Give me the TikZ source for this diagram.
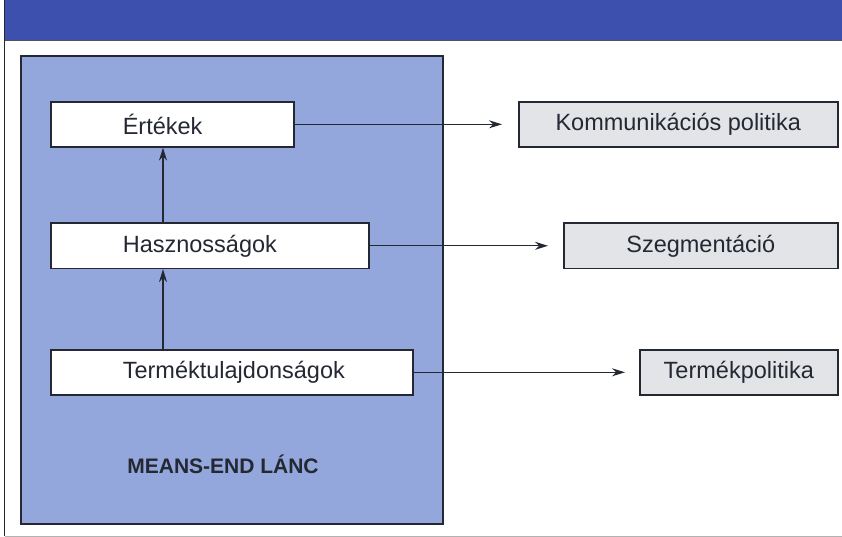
\documentclass[tikz,border=0pt]{standalone}
\usepackage{fontspec}
\setmainfont{Liberation Sans}
\usetikzlibrary{arrows.meta}
\definecolor{bannerblue}{RGB}{62,80,174}
\definecolor{panelblue}{RGB}{148,167,221}
\definecolor{edge}{RGB}{36,40,50}
\definecolor{policygray}{RGB}{226,228,231}
\begin{document}
\begin{tikzpicture}[x=1pt,y=-1pt,
  every node/.style={font=\fontsize{23.5}{27}\selectfont, text=edge},
  chainbox/.style={draw=edge, line width=1.6pt, fill=white, anchor=north west,
    inner xsep=72pt, inner ysep=0pt, align=left, minimum height=45pt},
  policybox/.style={draw=edge, line width=1.6pt, fill=policygray, anchor=north west,
    inner sep=0pt, minimum height=45pt},
  flow/.style={draw=edge, line width=1.3pt, -{Stealth[length=13pt,width=8pt]}}]
  \useasboundingbox (0,0) rectangle (842,537);
  % outer frame and title band
  \fill[white] (0,0) rectangle (842,537);
  \draw[edge, line width=1.2pt] (4.5,0) -- (4.5,536);
  \draw[gray!60, line width=0.8pt] (4.5,536) -- (842,536);
  \fill[bannerblue] (5,0) rectangle (842,40.5);
  \draw[edge!80, line width=1pt] (5,40.5) -- (842,40.5);
  % means-end panel
  \node[draw=edge, line width=1.6pt, fill=panelblue, anchor=north west, inner sep=0pt,
        minimum width=422pt, minimum height=468pt] (panel) at (20,55) {};
  \node[font=\fontsize{21}{25}\selectfont\bfseries] (chainlabel) at (223,464) {MEANS-END LÁNC};
  % chain boxes
  \node[chainbox, text width=99pt] (ertekek) at (50,101) {Értékek};
  \node[chainbox, text width=174pt] (haszon) at (50,222.5) {Hasznosságok};
  \node[chainbox, text width=218pt] (tulajd) at (50,349) {Terméktulajdonságok};
  % policy boxes
  \node[policybox, minimum width=319pt] (komm) at (518,101) {Kommunikációs politika};
  \node[policybox, minimum width=274pt] (szeg) at (563,222.5) {Szegmentáció};
  \node[policybox, minimum width=198pt] (termek) at (639,349) {Termékpolitika};
  % connectors
  \coordinate (c1) at (163,0);
  \draw[flow] (tulajd.north -| c1) -- (haszon.south -| c1);
  \draw[flow] (haszon.north -| c1) -- (ertekek.south -| c1);
  \draw[flow] (ertekek.east) -- ([xshift=-16pt]komm.west);
  \draw[flow] (haszon.east) -- ([xshift=-15pt]szeg.west);
  \draw[flow] (tulajd.east) -- ([xshift=-14pt]termek.west);
\end{tikzpicture}
\end{document}
